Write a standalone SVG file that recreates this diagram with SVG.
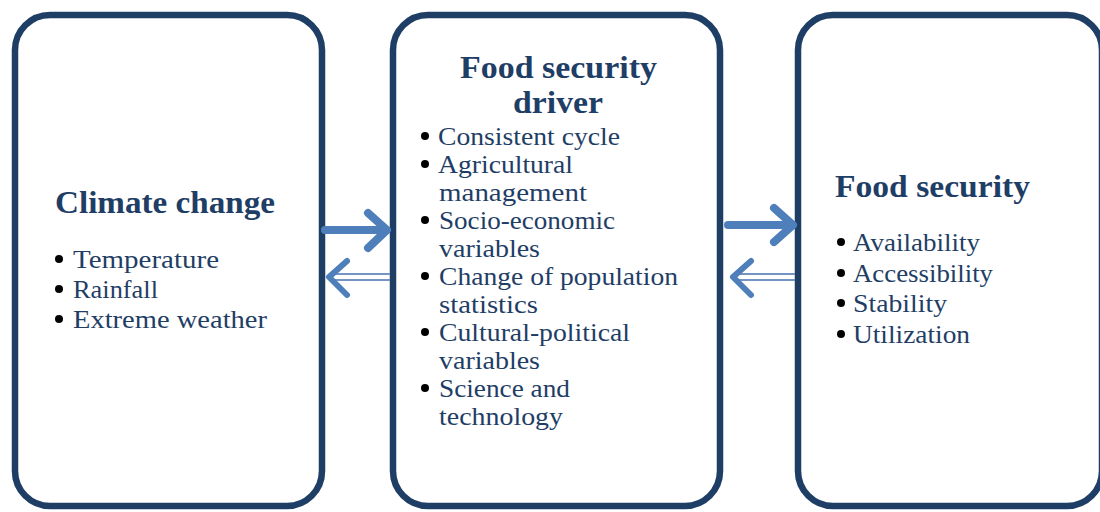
<svg xmlns="http://www.w3.org/2000/svg" width="1100" height="512" viewBox="0 0 1100 512">
  <style>
    .box { fill: #ffffff; stroke: #1f3e66; stroke-width: 6.5; }
    .title { font-family: "Liberation Serif", "DejaVu Serif", serif; font-weight: bold; font-size: 32px; fill: #1f3e66; }
    .item { font-family: "Liberation Serif", "DejaVu Serif", serif; font-size: 25px; fill: #1f3e66; }
    .dot { fill: #000000; }
    .fwd { fill: none; stroke: #4f7fba; stroke-width: 8; stroke-linecap: round; stroke-linejoin: round; }
    .back-line { fill: none; stroke: #7494c4; stroke-width: 2.2; }
    .back-head { fill: none; stroke: #4f7fba; stroke-width: 6; stroke-linecap: round; stroke-linejoin: round; }
  </style>
  <rect width="1100" height="512" fill="#ffffff"/>

  <!-- Climate change -->
  <g id="climate-change">
    <rect class="box" x="15" y="15" width="307" height="491" rx="35" ry="35"/>
    <text class="title" x="55" y="213" textLength="220" lengthAdjust="spacingAndGlyphs">Climate change</text>
    <circle class="dot" cx="59" cy="259" r="4"/>
    <text class="item" x="73" y="268" textLength="146" lengthAdjust="spacingAndGlyphs">Temperature</text>
    <circle class="dot" cx="59" cy="289" r="4"/>
    <text class="item" x="73" y="298" textLength="85" lengthAdjust="spacingAndGlyphs">Rainfall</text>
    <circle class="dot" cx="59" cy="319" r="4"/>
    <text class="item" x="73" y="328" textLength="194" lengthAdjust="spacingAndGlyphs">Extreme weather</text>
  </g>

  <!-- Food security driver -->
  <g id="food-security-driver">
    <rect class="box" x="393" y="15" width="327" height="491" rx="35" ry="35"/>
    <text class="title" x="460" y="78" textLength="197" lengthAdjust="spacingAndGlyphs">Food security</text>
    <text class="title" x="513" y="113" textLength="90" lengthAdjust="spacingAndGlyphs">driver</text>
    <circle class="dot" cx="425" cy="136" r="4"/>
    <text class="item" x="438" y="145" textLength="182" lengthAdjust="spacingAndGlyphs">Consistent cycle</text>
    <circle class="dot" cx="425" cy="164" r="4"/>
    <text class="item" x="438" y="173" textLength="135" lengthAdjust="spacingAndGlyphs">Agricultural</text>
    <text class="item" x="439" y="201" textLength="148" lengthAdjust="spacingAndGlyphs">management</text>
    <circle class="dot" cx="425" cy="220" r="4"/>
    <text class="item" x="439" y="229" textLength="176" lengthAdjust="spacingAndGlyphs">Socio-economic</text>
    <text class="item" x="439" y="257" textLength="101" lengthAdjust="spacingAndGlyphs">variables</text>
    <circle class="dot" cx="425" cy="276" r="4"/>
    <text class="item" x="439" y="285" textLength="239" lengthAdjust="spacingAndGlyphs">Change of population</text>
    <text class="item" x="439" y="313" textLength="99" lengthAdjust="spacingAndGlyphs">statistics</text>
    <circle class="dot" cx="425" cy="332" r="4"/>
    <text class="item" x="439" y="341" textLength="191" lengthAdjust="spacingAndGlyphs">Cultural-political</text>
    <text class="item" x="439" y="369" textLength="101" lengthAdjust="spacingAndGlyphs">variables</text>
    <circle class="dot" cx="425" cy="388" r="4"/>
    <text class="item" x="439" y="397" textLength="131" lengthAdjust="spacingAndGlyphs">Science and</text>
    <text class="item" x="439" y="425" textLength="124" lengthAdjust="spacingAndGlyphs">technology</text>
  </g>

  <!-- Food security -->
  <g id="food-security">
    <rect class="box" x="798" y="15" width="304" height="491" rx="35" ry="35"/>
    <text class="title" x="835" y="197" textLength="195" lengthAdjust="spacingAndGlyphs">Food security</text>
    <circle class="dot" cx="841" cy="242" r="4"/>
    <text class="item" x="853" y="251" textLength="127" lengthAdjust="spacingAndGlyphs">Availability</text>
    <circle class="dot" cx="841" cy="273" r="4"/>
    <text class="item" x="853" y="282" textLength="140" lengthAdjust="spacingAndGlyphs">Accessibility</text>
    <circle class="dot" cx="841" cy="303" r="4"/>
    <text class="item" x="853" y="312" textLength="94" lengthAdjust="spacingAndGlyphs">Stability</text>
    <circle class="dot" cx="841" cy="334" r="4"/>
    <text class="item" x="853" y="343" textLength="117" lengthAdjust="spacingAndGlyphs">Utilization</text>
  </g>

  <!-- Connectors -->
  <g id="connectors">
    <!-- climate change -> driver -->
    <line class="fwd" x1="325" y1="230" x2="385" y2="230"/>
    <polyline class="fwd" points="368,213 387,230 368,248"/>
    <!-- driver -> climate change -->
    <line class="back-line" x1="333" y1="274" x2="390" y2="274"/>
    <line class="back-line" x1="333" y1="280" x2="390" y2="280"/>
    <polyline class="back-head" points="347,261 329,277 347,295"/>
    <!-- driver -> food security -->
    <line class="fwd" x1="728" y1="225" x2="792" y2="225"/>
    <polyline class="fwd" points="774,208 793,225 774,242"/>
    <!-- food security -> driver -->
    <line class="back-line" x1="737" y1="274" x2="795" y2="274"/>
    <line class="back-line" x1="737" y1="280" x2="795" y2="280"/>
    <polyline class="back-head" points="751,261 733,277 751,295"/>
  </g>
</svg>
